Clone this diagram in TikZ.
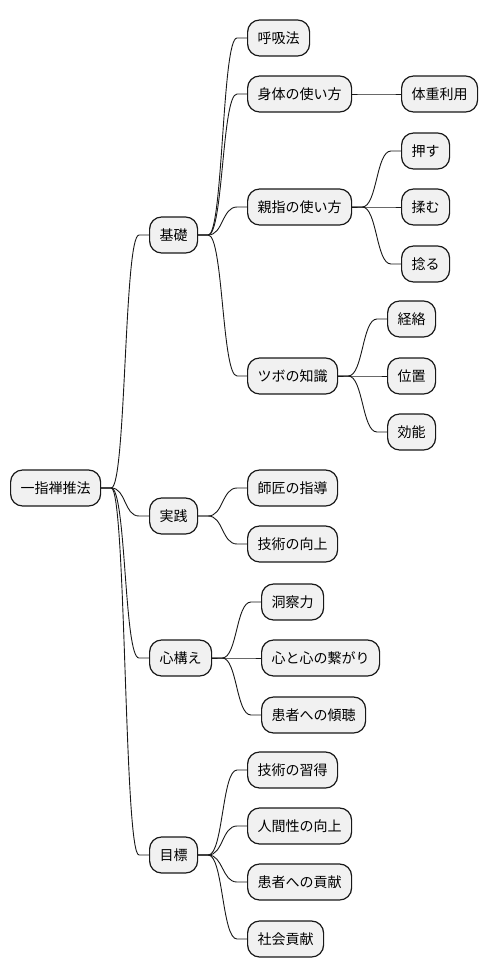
\documentclass[tikz,border=0pt]{standalone}
\usepackage{fontspec}
\setmainfont{Noto Sans CJK JP}
\usetikzlibrary{calc}
\definecolor{boxfill}{HTML}{F1F1F1}
\definecolor{boxline}{HTML}{181818}
\tikzset{
  mmbox/.style={draw=boxline, fill=boxfill, line width=1.2pt, rounded corners=12pt,
    minimum height=36pt, inner sep=0pt, anchor=west, text=black,
    font=\fontsize{14}{16}\selectfont},
  w48/.style={minimum width=48pt},
  w62/.style={minimum width=62pt},
  w76/.style={minimum width=76pt},
  w90/.style={minimum width=90pt},
  w104/.style={minimum width=104pt},
  w118/.style={minimum width=118pt},
  conn/.style={draw=boxline, line width=0.9pt}
}
\newcommand{\mmconn}[2]{%
  \draw[conn] (#1.east) -- ($(#1.east)+(10,0)$)
    .. controls ($(#1.east)+(25,0)$) and ($(#2.west)+(-25,0)$) ..
    ($(#2.west)+(-10,0)$) -- (#2.west);}
\begin{document}
\begin{tikzpicture}[x=1pt,y=-1pt]
\useasboundingbox (0,0) rectangle (488,978);
\node[mmbox,w90] (root) at (10,488) {一指禅推法};
\node[mmbox,w48] (k1) at (149,235) {基礎};
\node[mmbox,w48] (k2) at (149,516) {実践};
\node[mmbox,w62] (k3) at (149,658) {心構え};
\node[mmbox,w48] (k4) at (149,855) {目標};
\node[mmbox,w62] (a1) at (247,38) {呼吸法};
\node[mmbox,w104] (a2) at (247,94) {身体の使い方};
\node[mmbox,w104] (a3) at (247,207) {親指の使い方};
\node[mmbox,w90] (a4) at (247,376) {ツボの知識};
\node[mmbox,w76] (b1) at (401,94) {体重利用};
\node[mmbox,w48] (c1) at (401,151) {押す};
\node[mmbox,w48] (c2) at (401,207) {揉む};
\node[mmbox,w48] (c3) at (401,264) {捻る};
\node[mmbox,w48] (d1) at (387,319) {経絡};
\node[mmbox,w48] (d2) at (387,376) {位置};
\node[mmbox,w48] (d3) at (387,432) {効能};
\node[mmbox,w90] (e1) at (247,488) {師匠の指導};
\node[mmbox,w90] (e2) at (247,544) {技術の向上};
\node[mmbox,w62] (f1) at (261,602) {洞察力};
\node[mmbox,w118] (f2) at (261,658) {心と心の繋がり};
\node[mmbox,w104] (f3) at (261,715) {患者への傾聴};
\node[mmbox,w90] (g1) at (247,770) {技術の習得};
\node[mmbox,w104] (g2) at (247,826) {人間性の向上};
\node[mmbox,w104] (g3) at (247,882) {患者への貢献};
\node[mmbox,w76] (g4) at (247,939) {社会貢献};
\mmconn{root}{k1}\mmconn{root}{k2}\mmconn{root}{k3}\mmconn{root}{k4}
\mmconn{k1}{a1}\mmconn{k1}{a2}\mmconn{k1}{a3}\mmconn{k1}{a4}
\mmconn{a2}{b1}
\mmconn{a3}{c1}\mmconn{a3}{c2}\mmconn{a3}{c3}
\mmconn{a4}{d1}\mmconn{a4}{d2}\mmconn{a4}{d3}
\mmconn{k2}{e1}\mmconn{k2}{e2}
\mmconn{k3}{f1}\mmconn{k3}{f2}\mmconn{k3}{f3}
\mmconn{k4}{g1}\mmconn{k4}{g2}\mmconn{k4}{g3}\mmconn{k4}{g4}
\end{tikzpicture}
\end{document}
